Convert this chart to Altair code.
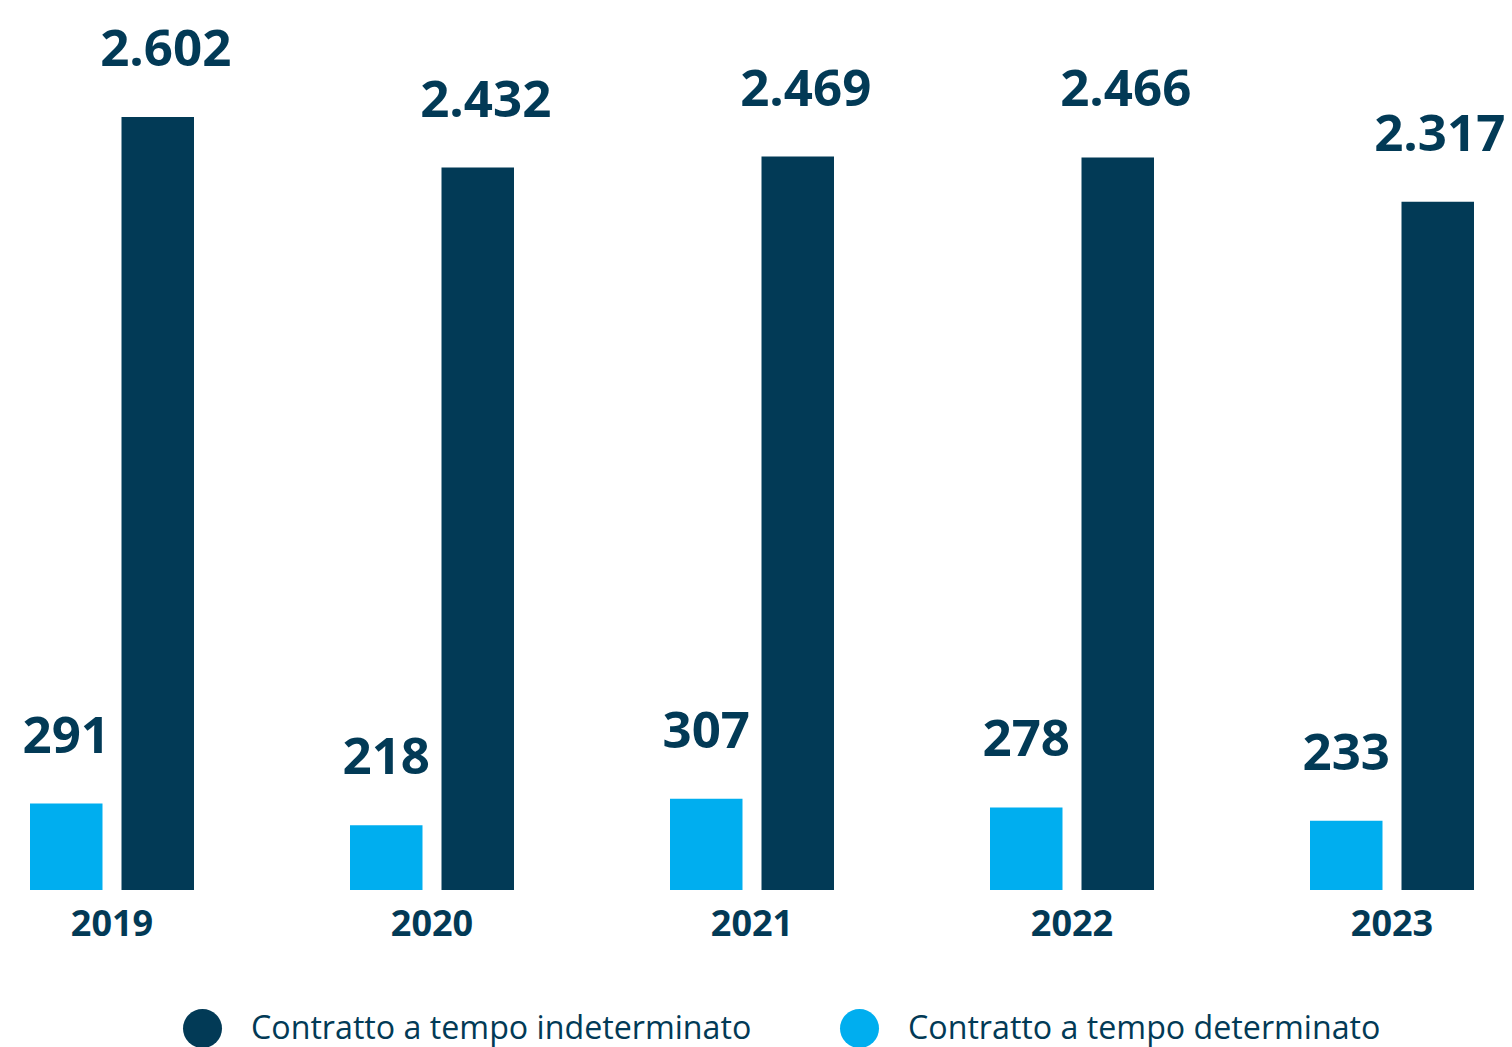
import altair as alt
import pandas as pd

years = ["2019", "2020", "2021", "2022", "2023"]
indeterminato = [2602, 2432, 2469, 2466, 2317]
determinato = [291, 218, 307, 278, 233]

S_IND = "Contratto a tempo indeterminato"
S_DET = "Contratto a tempo determinato"

DARK = "#023a56"
LIGHT = "#00aeef"
FONT = "Open Sans"

def fmt(v):
    return f"{v:,}".replace(",", ".")

rows = []
for y, a, b in zip(years, indeterminato, determinato):
    rows.append({"year": y, "series": S_DET, "value": b, "label": fmt(b)})
    rows.append({"year": y, "series": S_IND, "value": a, "label": fmt(a)})
df = pd.DataFrame(rows)

x = alt.X("year:N", sort=years, title=None,
          scale=alt.Scale(paddingInner=0.4875, paddingOuter=0.06875),
          axis=alt.Axis(labelAngle=0, labelFont=FONT, labelFontSize=36,
                        labelFontWeight="bold", labelColor=DARK, domain=False,
                        ticks=False, labelPadding=17))
xo = alt.XOffset("series:N", sort=[S_DET, S_IND],
                 scale=alt.Scale(paddingInner=0.2077, paddingOuter=0))
y = alt.Y("value:Q", scale=alt.Scale(domain=[0, 2969], nice=False), axis=None)

bars = alt.Chart(df).mark_bar().encode(
    x=x, xOffset=xo, y=y,
    color=alt.Color("series:N",
                    scale=alt.Scale(domain=[S_IND, S_DET], range=[DARK, LIGHT]),
                    legend=alt.Legend(orient="none", legendX=175, legendY=1001,
                                      direction="horizontal", symbolType="circle",
                                      symbolSize=1521, symbolStrokeWidth=0,
                                      labelFont=FONT, labelFontSize=32.2,
                                      labelColor=DARK, title=None,
                                      columnPadding=88, labelOffset=29,
                                      labelLimit=0, padding=0)),
)

text_style = dict(baseline="alphabetic", dy=-51, fontSize=51, fontWeight="bold",
                  font=FONT, color=DARK)

text_det = alt.Chart(df).transform_filter(alt.datum.series == S_DET).mark_text(
    **text_style).encode(x=x, xOffset=xo, y=y, text="label:N")

last_year = years[-1]
text_ind = alt.Chart(df).transform_filter(
    (alt.datum.series == S_IND) & (alt.datum.year != last_year)
).mark_text(dx=8, **text_style).encode(x=x, xOffset=xo, y=y, text="label:N")

text_ind_last = alt.Chart(df).transform_filter(
    (alt.datum.series == S_IND) & (alt.datum.year == last_year)
).mark_text(dx=2, **text_style).encode(x=x, xOffset=xo, y=y, text="label:N")

chart = alt.layer(bars, text_det, text_ind, text_ind_last).properties(
    width=1488, height=882,
    autosize=alt.AutoSizeParams(type="none"),
    padding={"left": 0, "top": 0, "right": 8, "bottom": 157},
).configure_view(stroke=None)

chart.save("out.html", embed_options={"renderer": "svg", "actions": False})
